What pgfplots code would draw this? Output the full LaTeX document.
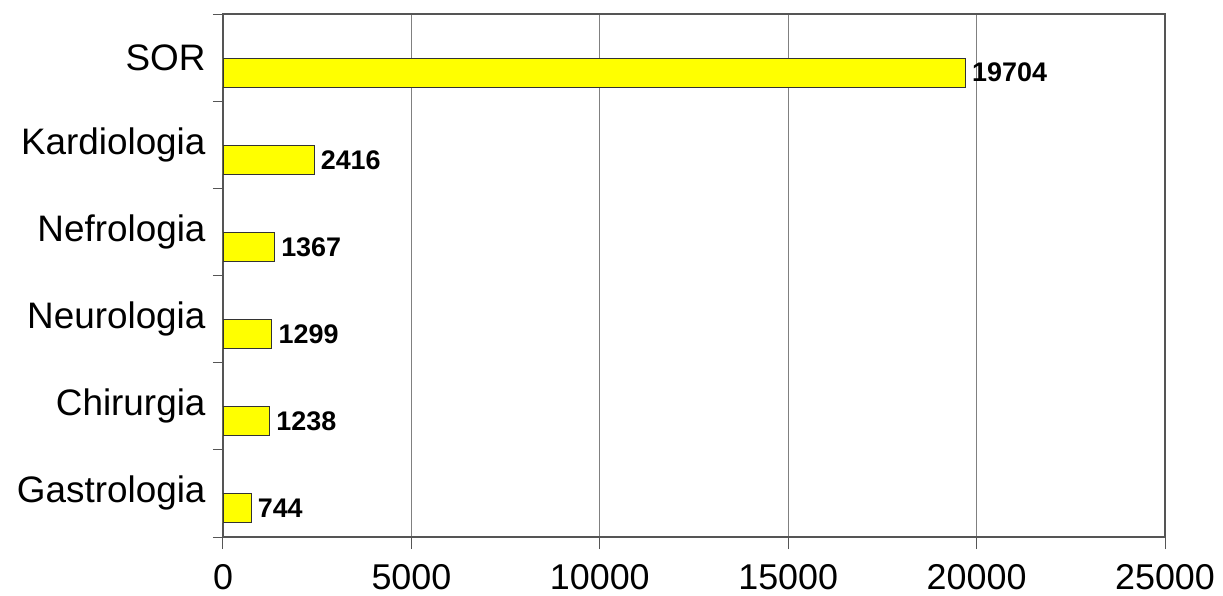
\documentclass[border=0pt]{standalone}
\usepackage{pgfplots}
\pgfplotsset{compat=1.18}
\usepackage{fontspec}
\setmainfont{Liberation Sans}
\definecolor{barfill}{RGB}{255,255,0}
\definecolor{axisgray}{RGB}{85,85,85}
\definecolor{gridgray}{RGB}{128,128,128}
\begin{document}
\begin{tikzpicture}[x=1bp,y=1bp]
\useasboundingbox (-223bp,-59bp) rectangle (1000bp,537bp);
\begin{axis}[
  at={(0,0)}, anchor=south west,
  scale only axis, width=942bp, height=523bp,
  xbar, bar width=29bp, bar shift=-15bp,
  xmin=0, xmax=25000,
  ymin=-0.5, ymax=5.5, y dir=reverse,
  xtick={0,5000,...,25000},
  scaled x ticks=false,
  ytick={0,...,5},
  yticklabels={SOR,Kardiologia,Nefrologia,Neurologia,Chirurgia,Gastrologia},
  minor ytick={-0.5,0.5,...,5.5},
  xtick pos=bottom, ytick pos=left,
  major tick length=0pt,
  minor tick length=10bp,
  minor y tick style={draw=axisgray, line width=1pt},
  tick align=outside,
  extra x ticks={0,5000,...,25000},
  extra x tick labels={},
  extra x tick style={major tick length=12bp, grid=none, xtick style={draw=axisgray, line width=1pt}},
  xmajorgrids, major grid style={draw=gridgray, line width=1pt},
  axis line style={draw=axisgray, line width=1.2pt},
  /pgf/number format/assume math mode=true,
  /pgf/number format/.cd, 1000 sep={}, fixed, /pgfplots/.cd,
  xticklabel style={font=\fontsize{36}{40}\selectfont, yshift=-24bp},
  yticklabel style={font=\fontsize{37}{42}\selectfont, xshift=-14bp},
  nodes near coords,
  nodes near coords style={font=\fontsize{27}{30}\selectfont\bfseries, anchor=west, xshift=3bp},
  point meta=x,
  every node near coord/.append style={/pgf/number format/.cd, 1000 sep={}, fixed},
  clip=false,
]
\addplot[fill=barfill, draw=black!80, line width=0.9pt] coordinates {
  (19704,0) (2416,1) (1367,2) (1299,3) (1238,4) (744,5)
};
\end{axis}
\end{tikzpicture}
\end{document}
